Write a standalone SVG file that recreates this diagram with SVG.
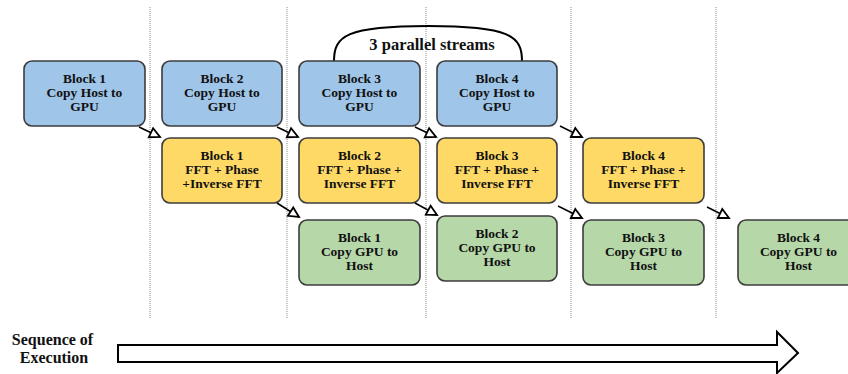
<svg xmlns="http://www.w3.org/2000/svg" width="848" height="374" viewBox="0 0 848 374">
  <style>
    .sep { stroke: #8a8a8a; stroke-width: 1; stroke-dasharray: 1 1; fill: none; }
    .box { stroke: #3c3c3c; stroke-width: 1.6; }
    .h2d { fill: #9fc5e8; }
    .fft { fill: #ffd966; }
    .d2h { fill: #b6d7a8; }
    text { font-family: "Liberation Serif", "Times New Roman", serif; font-weight: bold; fill: #111; text-anchor: middle; }
    .lbl { font-size: 13.5px; }
    .big { font-size: 16.5px; }
    .axis { font-size: 16px; }
    .edge { stroke: #000; stroke-width: 1.5; fill: none; marker-end: url(#tri); }
  </style>
  <defs>
    <marker id="tri" markerUnits="userSpaceOnUse" markerWidth="14" markerHeight="14" refX="10" refY="5" orient="auto" viewBox="-2 -2 14 14">
      <path d="M0,0 L10,5 L0,10 Z" fill="#fff" stroke="#000" stroke-width="1.8" stroke-linejoin="miter"/>
    </marker>
  </defs>
  <rect width="848" height="374" fill="#fff"/>

  <!-- stage separators -->
  <g id="separators">
    <line class="sep" x1="150" y1="7" x2="150" y2="319"/>
    <line class="sep" x1="287" y1="7" x2="287" y2="319"/>
    <line class="sep" x1="426" y1="7" x2="426" y2="319"/>
    <line class="sep" x1="571" y1="7" x2="571" y2="319"/>
    <line class="sep" x1="716" y1="7" x2="716" y2="319"/>
  </g>

  <!-- bracket over the concurrent stages -->
  <g id="streams">
    <path d="M334,61 C334,36 346,26 428,26 C510,26 522,36 522,61" fill="none" stroke="#000" stroke-width="2"/>
    <text class="big" x="432" y="50">3 parallel streams</text>
  </g>

  <!-- host to device copies -->
  <g id="h2d-1">
    <rect class="box h2d" x="24" y="61" width="121" height="65" rx="8"/>
    <text class="lbl" x="84.5" y="83">Block 1</text>
    <text class="lbl" x="84.5" y="97">Copy Host to</text>
    <text class="lbl" x="84.5" y="111">GPU</text>
  </g>
  <g id="h2d-2">
    <rect class="box h2d" x="162" y="61" width="120" height="65" rx="8"/>
    <text class="lbl" x="222" y="83">Block 2</text>
    <text class="lbl" x="222" y="97">Copy Host to</text>
    <text class="lbl" x="222" y="111">GPU</text>
  </g>
  <g id="h2d-3">
    <rect class="box h2d" x="299" y="61" width="121" height="65" rx="8"/>
    <text class="lbl" x="359.5" y="83">Block 3</text>
    <text class="lbl" x="359.5" y="97">Copy Host to</text>
    <text class="lbl" x="359.5" y="111">GPU</text>
  </g>
  <g id="h2d-4">
    <rect class="box h2d" x="437" y="61" width="120" height="65" rx="8"/>
    <text class="lbl" x="497" y="83">Block 4</text>
    <text class="lbl" x="497" y="97">Copy Host to</text>
    <text class="lbl" x="497" y="111">GPU</text>
  </g>

  <!-- FFT kernels -->
  <g id="fft-1">
    <rect class="box fft" x="162" y="138" width="120" height="65" rx="8"/>
    <text class="lbl" x="222" y="160">Block 1</text>
    <text class="lbl" x="222" y="174">FFT + Phase</text>
    <text class="lbl" x="222" y="188">+Inverse FFT</text>
  </g>
  <g id="fft-2">
    <rect class="box fft" x="299" y="138" width="121" height="65" rx="8"/>
    <text class="lbl" x="359.5" y="160">Block 2</text>
    <text class="lbl" x="359.5" y="174">FFT + Phase +</text>
    <text class="lbl" x="359.5" y="188">Inverse FFT</text>
  </g>
  <g id="fft-3">
    <rect class="box fft" x="437" y="138" width="120" height="65" rx="8"/>
    <text class="lbl" x="497" y="160">Block 3</text>
    <text class="lbl" x="497" y="174">FFT + Phase +</text>
    <text class="lbl" x="497" y="188">Inverse FFT</text>
  </g>
  <g id="fft-4">
    <rect class="box fft" x="583" y="138" width="121" height="65" rx="8"/>
    <text class="lbl" x="643.5" y="160">Block 4</text>
    <text class="lbl" x="643.5" y="174">FFT + Phase +</text>
    <text class="lbl" x="643.5" y="188">Inverse FFT</text>
  </g>

  <!-- device to host copies -->
  <g id="d2h-1">
    <rect class="box d2h" x="299" y="220" width="121" height="65" rx="8"/>
    <text class="lbl" x="359.5" y="242">Block 1</text>
    <text class="lbl" x="359.5" y="256">Copy GPU to</text>
    <text class="lbl" x="359.5" y="270">Host</text>
  </g>
  <g id="d2h-2">
    <rect class="box d2h" x="437" y="216" width="120" height="65" rx="8"/>
    <text class="lbl" x="497" y="238">Block 2</text>
    <text class="lbl" x="497" y="252">Copy GPU to</text>
    <text class="lbl" x="497" y="266">Host</text>
  </g>
  <g id="d2h-3">
    <rect class="box d2h" x="583" y="220" width="121" height="65" rx="8"/>
    <text class="lbl" x="643.5" y="242">Block 3</text>
    <text class="lbl" x="643.5" y="256">Copy GPU to</text>
    <text class="lbl" x="643.5" y="270">Host</text>
  </g>
  <g id="d2h-4">
    <rect class="box d2h" x="738" y="220" width="121" height="65" rx="8"/>
    <text class="lbl" x="798.5" y="242">Block 4</text>
    <text class="lbl" x="798.5" y="256">Copy GPU to</text>
    <text class="lbl" x="798.5" y="270">Host</text>
  </g>

  <!-- dependencies -->
  <g id="connectors">
    <line class="edge" x1="139" y1="127" x2="160" y2="137"/>
    <line class="edge" x1="277" y1="127" x2="298" y2="137"/>
    <line class="edge" x1="415" y1="127" x2="436" y2="137"/>
    <line class="edge" x1="560" y1="126" x2="582" y2="137"/>
    <line class="edge" x1="277" y1="203" x2="299" y2="217"/>
    <line class="edge" x1="415" y1="203" x2="437" y2="215"/>
    <line class="edge" x1="558" y1="206" x2="582" y2="218"/>
    <line class="edge" x1="707" y1="207" x2="729" y2="218"/>
  </g>

  <!-- time axis -->
  <g id="timeline">
    <text class="axis" x="52.5" y="345">Sequence of</text>
    <text class="axis" x="54" y="363">Execution</text>
    <polygon points="118,345 777,345 777,332 798,353 777,373 777,362 118,362" fill="#fff" stroke="#000" stroke-width="2" stroke-linejoin="miter"/>
  </g>
</svg>
